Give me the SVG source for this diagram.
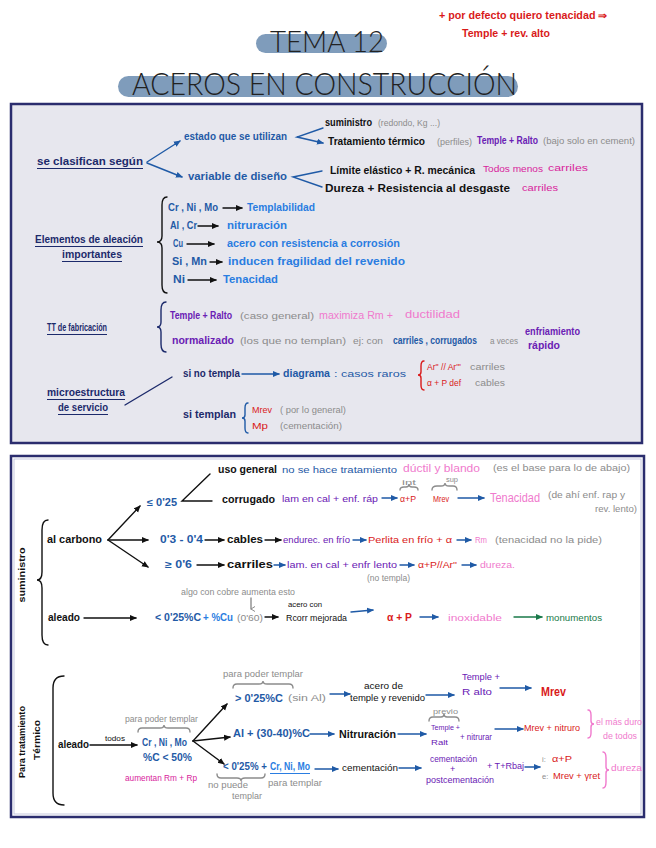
<svg xmlns="http://www.w3.org/2000/svg" width="656" height="848" viewBox="0 0 656 848">
<defs>
<style>
text{font-family:"Liberation Sans",Arial,sans-serif;font-size:10px;font-weight:bold}
.h{font-family:Lato,"Open Sans","Liberation Sans",sans-serif;font-weight:300;fill:#222}
.s{font-size:9px;font-weight:normal}
.xs{font-size:7.5px;font-weight:normal}
.nv{fill:#1c2a6b}.bl{fill:#1f5aa6}.bb{fill:#2a7de1}.k{fill:#111}.g{fill:#8c8c8c;font-weight:normal}
.pu{fill:#6a20b4}.mg{fill:#d8249c}.lp{fill:#f07acd;font-weight:normal}.r{fill:#d91a1a}.gn{fill:#1a7a4a}
.ln{fill:none;stroke-width:1.4;stroke-linecap:round}
.ck{stroke:#111}.cb{stroke:#1f5aa6}.cn{stroke:#1c2a6b}.cg{stroke:#1a7a4a}.cgr{stroke:#8c8c8c}.cr{stroke:#d91a1a}.cp{stroke:#f07acd}
.ul{stroke:#1c2a6b;stroke-width:1.2}
</style>
<marker id="mk" markerWidth="7" markerHeight="7" refX="6" refY="3.5" orient="auto" markerUnits="userSpaceOnUse"><path d="M0,0.5 L7,3.5 L0,6.5 Z" fill="#111"/></marker>
<marker id="mb" markerWidth="7" markerHeight="7" refX="6" refY="3.5" orient="auto" markerUnits="userSpaceOnUse"><path d="M0,0.5 L7,3.5 L0,6.5 Z" fill="#1f5aa6"/></marker>
<marker id="mg" markerWidth="7" markerHeight="7" refX="6" refY="3.5" orient="auto" markerUnits="userSpaceOnUse"><path d="M0,0.5 L7,3.5 L0,6.5 Z" fill="#1a7a4a"/></marker>
<marker id="mgr" markerWidth="6" markerHeight="6" refX="3" refY="5" orient="auto" markerUnits="userSpaceOnUse"><path d="M0.5,1 L3,5 L5.5,1" fill="none" stroke="#8c8c8c"/></marker>
</defs>

<!-- header -->
<g id="note">
<text x="439" y="19" class="r" textLength="168" lengthAdjust="spacingAndGlyphs">+ por defecto quiero tenacidad ⇒</text>
<text x="462" y="37" class="r" textLength="88" lengthAdjust="spacingAndGlyphs">Temple + rev. alto</text>
</g>
<g id="title1">
<rect x="256" y="34" width="131" height="19" rx="9.5" fill="#7f9cbb"/>
<text x="270" y="52" class="h" style="font-size:29px" textLength="114" lengthAdjust="spacingAndGlyphs">TEMA 12</text>
</g>
<g id="title2">
<rect x="118" y="76" width="400" height="21" rx="10.5" fill="#7f9cbb"/>
<text x="132" y="95" class="h" style="font-size:31px" textLength="385" lengthAdjust="spacingAndGlyphs">ACEROS EN CONSTRUCCIÓN</text>
</g>

<!-- box 1 -->
<rect x="11" y="104" width="631" height="339" fill="#e7e7ee" stroke="#2b2d6e" stroke-width="2.5"/>

<g id="clasifican">
<text x="37" y="165" class="nv" textLength="106" lengthAdjust="spacingAndGlyphs">se clasifican según</text>
<line x1="37" y1="168.5" x2="143" y2="168.5" class="ul"/>
</g>
<g id="estado">
<text x="184" y="140" class="bl" textLength="103" lengthAdjust="spacingAndGlyphs">estado que se utilizan</text>
</g>
<g id="variable">
<text x="188" y="180" class="bl" textLength="99" lengthAdjust="spacingAndGlyphs">variable de diseño</text>
</g>
<g id="suministro1">
<text x="325" y="126" class="k" textLength="47" lengthAdjust="spacingAndGlyphs">suministro</text>
<text x="378" y="126" class="g s" textLength="62" lengthAdjust="spacingAndGlyphs">(redondo, Kg ...)</text>
</g>
<g id="tratamiento1">
<text x="328" y="145" class="k" textLength="97" lengthAdjust="spacingAndGlyphs">Tratamiento térmico</text>
<text x="437" y="145" class="g s" textLength="35" lengthAdjust="spacingAndGlyphs">(perfiles)</text>
<text x="477" y="144" class="pu" textLength="61" lengthAdjust="spacingAndGlyphs">Temple + Ralto</text>
<text x="543" y="144" class="g s" textLength="92" lengthAdjust="spacingAndGlyphs">(bajo solo en cement)</text>
</g>
<g id="limite">
<text x="330" y="174" class="k" textLength="145" lengthAdjust="spacingAndGlyphs">Límite elástico + R. mecánica</text>
<text x="483" y="172" class="mg s" textLength="60" lengthAdjust="spacingAndGlyphs">Todos menos</text>
<text x="548" y="171" class="mg s" textLength="40" lengthAdjust="spacingAndGlyphs">carriles</text>
</g>
<g id="dureza1">
<text x="325" y="192" class="k" textLength="185" lengthAdjust="spacingAndGlyphs">Dureza + Resistencia al desgaste</text>
<text x="522" y="191" class="mg s" textLength="36" lengthAdjust="spacingAndGlyphs">carriles</text>
</g>

<g id="elementos">
<text x="35" y="243" class="nv" textLength="108" lengthAdjust="spacingAndGlyphs">Elementos de aleación</text>
<line x1="35" y1="246.5" x2="143" y2="246.5" class="ul"/>
<text x="62" y="258" class="nv" textLength="60" lengthAdjust="spacingAndGlyphs">importantes</text>
<line x1="62" y1="261.5" x2="122" y2="261.5" class="ul"/>
</g>
<g id="el1"><text x="168" y="211" class="bl" textLength="50" lengthAdjust="spacingAndGlyphs">Cr , Ni , Mo</text><text x="247" y="211" class="bb" textLength="68" lengthAdjust="spacingAndGlyphs">Templabilidad</text></g>
<g id="el2"><text x="170" y="229" class="bl" textLength="27" lengthAdjust="spacingAndGlyphs">Al , Cr</text><text x="227" y="229" class="bb" textLength="60" lengthAdjust="spacingAndGlyphs">nitruración</text></g>
<g id="el3"><text x="173" y="247" class="bl" textLength="10" lengthAdjust="spacingAndGlyphs">Cu</text><text x="227" y="247" class="bb" textLength="173" lengthAdjust="spacingAndGlyphs">acero con resistencia a corrosión</text></g>
<g id="el4"><text x="172" y="265" class="bl" textLength="35" lengthAdjust="spacingAndGlyphs">Si , Mn</text><text x="228" y="265" class="bb" textLength="177" lengthAdjust="spacingAndGlyphs">inducen fragilidad del revenido</text></g>
<g id="el5"><text x="173" y="283" class="bl" textLength="12" lengthAdjust="spacingAndGlyphs">Ni</text><text x="223" y="283" class="bb" textLength="55" lengthAdjust="spacingAndGlyphs">Tenacidad</text></g>

<g id="tt">
<text x="47" y="331" class="nv" textLength="60" lengthAdjust="spacingAndGlyphs">TT de fabricación</text>
<line x1="47" y1="334.5" x2="107" y2="334.5" class="ul"/>
</g>
<g id="tt1">
<text x="170" y="319" class="pu" textLength="62" lengthAdjust="spacingAndGlyphs">Temple + Ralto</text>
<text x="240" y="319" class="g s" textLength="74" lengthAdjust="spacingAndGlyphs">(caso general)</text>
<text x="319" y="319" class="lp" textLength="74" lengthAdjust="spacingAndGlyphs">maximiza Rm +</text>
<text x="405" y="318" class="lp" textLength="55" lengthAdjust="spacingAndGlyphs">ductilidad</text>
</g>
<g id="tt2">
<text x="172" y="344" class="pu" textLength="62" lengthAdjust="spacingAndGlyphs">normalizado</text>
<text x="240" y="344" class="g s" textLength="106" lengthAdjust="spacingAndGlyphs">(los que no templan)</text>
<text x="353" y="344" class="g s" textLength="30" lengthAdjust="spacingAndGlyphs">ej: con</text>
<text x="393" y="344" class="bl" textLength="84" lengthAdjust="spacingAndGlyphs">carriles , corrugados</text>
<text x="490" y="344" class="g s" textLength="28" lengthAdjust="spacingAndGlyphs">a veces</text>
<text x="525" y="335" class="pu" textLength="55" lengthAdjust="spacingAndGlyphs">enfriamiento</text>
<text x="528" y="349" class="pu" textLength="32" lengthAdjust="spacingAndGlyphs">rápido</text>
</g>

<g id="micro">
<text x="47" y="396" class="nv" textLength="78" lengthAdjust="spacingAndGlyphs">microestructura</text>
<line x1="47" y1="399.5" x2="125" y2="399.5" class="ul"/>
<text x="58" y="411" class="nv" textLength="50" lengthAdjust="spacingAndGlyphs">de servicio</text>
<line x1="58" y1="414.5" x2="108" y2="414.5" class="ul"/>
</g>
<g id="notempla">
<text x="183" y="377" class="nv" textLength="57" lengthAdjust="spacingAndGlyphs">si no templa</text>
<text x="283" y="377" class="bl" textLength="47" lengthAdjust="spacingAndGlyphs">diagrama</text>
<text x="334" y="377" class="bl s" textLength="72" lengthAdjust="spacingAndGlyphs">: casos raros</text>
<text x="427" y="370" class="r s" textLength="34" lengthAdjust="spacingAndGlyphs">Ar'' // Ar'''</text>
<text x="427" y="386" class="r s" textLength="34" lengthAdjust="spacingAndGlyphs">α + P def</text>
<text x="470" y="370" class="g s" textLength="35" lengthAdjust="spacingAndGlyphs">carriles</text>
<text x="475" y="386" class="g s" textLength="30" lengthAdjust="spacingAndGlyphs">cables</text>
</g>
<g id="templan">
<text x="183" y="418" class="nv" textLength="53" lengthAdjust="spacingAndGlyphs">si templan</text>
<text x="252" y="413" class="r s" textLength="20" lengthAdjust="spacingAndGlyphs">Mrev</text>
<text x="280" y="413" class="g s" textLength="66" lengthAdjust="spacingAndGlyphs">( por lo general)</text>
<text x="252" y="429" class="r s" textLength="16" lengthAdjust="spacingAndGlyphs">Mp</text>
<text x="280" y="429" class="g s" textLength="62" lengthAdjust="spacingAndGlyphs">(cementación)</text>
</g>

<!-- box 2 -->
<rect x="11" y="456" width="633" height="361" fill="#fff" stroke="#2b2d6e" stroke-width="2.5"/>
<rect x="14" y="459" width="627" height="355" fill="none" stroke="#b9bcd8" stroke-width="0.8"/>

<g id="suministro2">
<text transform="translate(25,575) rotate(-90)" text-anchor="middle" class="k" style="font-size:9px" textLength="55" lengthAdjust="spacingAndGlyphs">suministro</text>
</g>
<g id="alcarbono"><text x="47" y="543" class="k" textLength="55" lengthAdjust="spacingAndGlyphs">al carbono</text></g>
<g id="c025"><text x="147" y="506" class="bl" textLength="30" lengthAdjust="spacingAndGlyphs">≤ 0'25</text></g>
<g id="usogeneral">
<text x="218" y="473" class="k" textLength="59" lengthAdjust="spacingAndGlyphs">uso general</text>
<text x="282" y="473" class="bl s" textLength="115" lengthAdjust="spacingAndGlyphs">no se hace tratamiento</text>
<text x="403" y="472" class="lp" style="font-size:11px" textLength="77" lengthAdjust="spacingAndGlyphs">dúctil y blando</text>
<text x="493" y="471" class="g s" textLength="137" lengthAdjust="spacingAndGlyphs">(es el base para lo de abajo)</text>
</g>
<g id="corrugado">
<text x="222" y="503" class="k" textLength="53" lengthAdjust="spacingAndGlyphs">corrugado</text>
<text x="282" y="502" class="pu s" textLength="96" lengthAdjust="spacingAndGlyphs">lam en cal + enf. ráp</text>
<text x="402" y="485" class="g xs" textLength="14" lengthAdjust="spacingAndGlyphs">int</text>
<text x="400" y="502" class="r s" textLength="16" lengthAdjust="spacingAndGlyphs">α+P</text>
<text x="446" y="482" class="g xs" textLength="12" lengthAdjust="spacingAndGlyphs">sup</text>
<text x="433" y="502" class="r s" textLength="16" lengthAdjust="spacingAndGlyphs">Mrev</text>
<text x="490" y="502" class="lp" style="font-size:12px" textLength="50" lengthAdjust="spacingAndGlyphs">Tenacidad</text>
<text x="548" y="498" class="g s" textLength="77" lengthAdjust="spacingAndGlyphs">(de ahí enf. rap y</text>
<text x="595" y="512" class="g s" textLength="42" lengthAdjust="spacingAndGlyphs">rev. lento)</text>
</g>
<g id="c0304">
<text x="160" y="543" class="bl" textLength="43" lengthAdjust="spacingAndGlyphs">0'3 - 0'4</text>
<text x="227" y="543" class="k" textLength="36" lengthAdjust="spacingAndGlyphs">cables</text>
<text x="283" y="543" class="pu s" textLength="67" lengthAdjust="spacingAndGlyphs">endurec. en frío</text>
<text x="368" y="543" class="r s" textLength="84" lengthAdjust="spacingAndGlyphs">Perlita en frío + α</text>
<text x="475" y="543" class="lp s" textLength="12" lengthAdjust="spacingAndGlyphs">Rm</text>
<text x="495" y="543" class="g s" textLength="107" lengthAdjust="spacingAndGlyphs">(tenacidad no la pide)</text>
</g>
<g id="c06">
<text x="165" y="568" class="bl" textLength="27" lengthAdjust="spacingAndGlyphs">≥ 0'6</text>
<text x="227" y="568" class="k" textLength="46" lengthAdjust="spacingAndGlyphs">carriles</text>
<text x="287" y="568" class="pu s" textLength="110" lengthAdjust="spacingAndGlyphs">lam. en cal + enfr lento</text>
<text x="367" y="581" class="g s" textLength="43" lengthAdjust="spacingAndGlyphs">(no templa)</text>
<text x="418" y="568" class="r s" textLength="39" lengthAdjust="spacingAndGlyphs">α+P//Ar''</text>
<text x="480" y="568" class="lp s" textLength="35" lengthAdjust="spacingAndGlyphs">dureza.</text>
</g>
<g id="aleado1">
<text x="48" y="621" class="k" textLength="32" lengthAdjust="spacingAndGlyphs">aleado</text>
<text x="181" y="595" class="g s" textLength="114" lengthAdjust="spacingAndGlyphs">algo con cobre aumenta esto</text>
<text x="155" y="621" class="bl" textLength="46" lengthAdjust="spacingAndGlyphs">&lt; 0'25%C</text>
<text x="203" y="621" class="bb" textLength="30" lengthAdjust="spacingAndGlyphs">+ %Cu</text>
<text x="237" y="621" class="g s" textLength="26" lengthAdjust="spacingAndGlyphs">(0'60)</text>
<text x="288" y="607" class="k xs" textLength="34" lengthAdjust="spacingAndGlyphs">acero con</text>
<text x="286" y="621" class="k s" textLength="61" lengthAdjust="spacingAndGlyphs">Rcorr mejorada</text>
<text x="387" y="621" class="r" textLength="25" lengthAdjust="spacingAndGlyphs">α + P</text>
<text x="448" y="621" class="lp s" textLength="54" lengthAdjust="spacingAndGlyphs">inoxidable</text>
<text x="546" y="621" class="gn s" textLength="56" lengthAdjust="spacingAndGlyphs">monumentos</text>
</g>

<g id="paratt">
<text transform="translate(25,742) rotate(-90)" text-anchor="middle" class="k" style="font-size:8.5px" textLength="72" lengthAdjust="spacingAndGlyphs">Para tratamiento</text>
<text transform="translate(40,740) rotate(-90)" text-anchor="middle" class="k" style="font-size:8.5px" textLength="40" lengthAdjust="spacingAndGlyphs">Térmico</text>
</g>
<g id="aleado2">
<text x="58" y="748" class="k" textLength="31" lengthAdjust="spacingAndGlyphs">aleado</text>
<text x="105" y="741" class="k xs" textLength="20" lengthAdjust="spacingAndGlyphs">todos</text>
</g>
<g id="crnimo">
<text x="125" y="722" class="g s" textLength="73" lengthAdjust="spacingAndGlyphs">para poder templar</text>
<text x="142" y="746" class="bl" textLength="45" lengthAdjust="spacingAndGlyphs">Cr , Ni , Mo</text>
<text x="143" y="761" class="bl" textLength="49" lengthAdjust="spacingAndGlyphs">%C &lt; 50%</text>
<text x="125" y="781" class="mg s" textLength="72" lengthAdjust="spacingAndGlyphs">aumentan Rm + Rp</text>
</g>
<g id="m025">
<text x="223" y="677" class="g s" textLength="80" lengthAdjust="spacingAndGlyphs">para poder templar</text>
<text x="235" y="702" class="bl" textLength="48" lengthAdjust="spacingAndGlyphs">&gt; 0'25%C</text>
<text x="288" y="701" class="g s" textLength="38" lengthAdjust="spacingAndGlyphs">(sin Al)</text>
</g>
<g id="al3040"><text x="233" y="737" class="bl" textLength="77" lengthAdjust="spacingAndGlyphs">Al + (30-40)%C</text></g>
<g id="l025">
<text x="223" y="770" class="bl" textLength="44" lengthAdjust="spacingAndGlyphs">&lt; 0'25% +</text>
<text x="270" y="770" class="bb" textLength="40" lengthAdjust="spacingAndGlyphs">Cr, Ni, Mo</text>
<text x="208" y="788" class="g s" textLength="40" lengthAdjust="spacingAndGlyphs">no puede</text>
<text x="232" y="799" class="g s" textLength="30" lengthAdjust="spacingAndGlyphs">templar</text>
<text x="268" y="786" class="g s" textLength="54" lengthAdjust="spacingAndGlyphs">para templar</text>
</g>
<g id="r1">
<text x="364" y="689" class="k s" textLength="39" lengthAdjust="spacingAndGlyphs">acero de</text>
<text x="350" y="701" class="k s" textLength="75" lengthAdjust="spacingAndGlyphs">temple y revenido</text>
<text x="462" y="680" class="pu s" textLength="38" lengthAdjust="spacingAndGlyphs">Temple +</text>
<text x="462" y="695" class="pu s" textLength="30" lengthAdjust="spacingAndGlyphs">R alto</text>
<text x="541" y="696" class="r" style="font-size:13px" textLength="25" lengthAdjust="spacingAndGlyphs">Mrev</text>
</g>
<g id="r2">
<text x="339" y="738" class="k" textLength="57" lengthAdjust="spacingAndGlyphs">Nitruración</text>
<text x="433" y="714" class="g xs" textLength="25" lengthAdjust="spacingAndGlyphs">previo</text>
<text x="431" y="730" class="pu xs" textLength="29" lengthAdjust="spacingAndGlyphs">Temple +</text>
<text x="431" y="745" class="pu xs" textLength="17" lengthAdjust="spacingAndGlyphs">Ralt</text>
<text x="460" y="740" class="pu s" textLength="32" lengthAdjust="spacingAndGlyphs">+ nitrurar</text>
<text x="524" y="731" class="r s" textLength="56" lengthAdjust="spacingAndGlyphs">Mrev + nitruro</text>
<text x="596" y="725" class="lp s" textLength="46" lengthAdjust="spacingAndGlyphs">el más duro</text>
<text x="603" y="739" class="lp s" textLength="34" lengthAdjust="spacingAndGlyphs">de todos</text>
</g>
<g id="r3">
<text x="342" y="771" class="k s" textLength="56" lengthAdjust="spacingAndGlyphs">cementación</text>
<text x="430" y="762" class="pu s" textLength="47" lengthAdjust="spacingAndGlyphs">cementación</text>
<text x="450" y="772" class="pu s">+</text>
<text x="426" y="783" class="pu s" textLength="68" lengthAdjust="spacingAndGlyphs">postcementación</text>
<text x="487" y="769" class="pu s" textLength="37" lengthAdjust="spacingAndGlyphs">+ T+Rbaj</text>
<text x="542" y="762" class="g xs">i:</text>
<text x="552" y="762" class="r s" textLength="20" lengthAdjust="spacingAndGlyphs">α+P</text>
<text x="542" y="779" class="g xs">e:</text>
<text x="553" y="779" class="r s" textLength="47" lengthAdjust="spacingAndGlyphs">Mrev + γret</text>
<text x="611" y="771" class="lp s" textLength="31" lengthAdjust="spacingAndGlyphs">dureza</text>
</g>

<g id="connectors">
<path d="M147 162 L180 141" class="ln cb" marker-end="url(#mb)"/>
<path d="M147 163 L182 177" class="ln cb" marker-end="url(#mb)"/>
<path d="M323 128 L297 137 L323 143" class="ln cb" marker-end="url(#mb)"/>
<path d="M322 171 L293 177 L322 187" class="ln cb"/>
<path d="M167 197 Q162 197 162 205 L162 236 Q162 242 157 242 Q162 242 162 248 L162 285 Q162 293 167 293" class="ln ck"/>
<path d="M223 208 L242 208" class="ln ck" marker-end="url(#mk)"/>
<path d="M198 226 L218 226" class="ln ck" marker-end="url(#mk)"/>
<path d="M187 244 L214 244" class="ln ck" marker-end="url(#mk)"/>
<path d="M210 262 L222 262" class="ln ck" marker-end="url(#mk)"/>
<path d="M188 280 L216 280" class="ln ck" marker-end="url(#mk)"/>
<path d="M166 302 Q161 302 161 310 L161 322 Q161 327 157 327 Q161 327 161 332 L161 344 Q161 352 166 352" class="ln cn"/>
<path d="M125 405 L172 377" class="ln cn"/>
<path d="M242 374 L279 374" class="ln cb" marker-end="url(#mb)"/>
<path d="M424 361 Q421 361 421 366 L421 372 Q421 375 418 375 Q421 375 421 378 L421 385 Q421 390 424 390" class="ln cr" stroke-width="2"/>
<path d="M248 403 Q245 403 245 408 L245 415 Q245 418 242 418 Q245 418 245 421 L245 428 Q245 433 248 433" class="ln cb" stroke-width="1.8"/>
<path d="M48 520 Q42 520 42 530 L42 572 Q42 580 37 580 Q42 580 42 588 L42 635 Q42 645 48 645" class="ln ck"/>
<path d="M108 540 L140 506" class="ln ck" marker-end="url(#mk)"/>
<path d="M108 540 L148 540" class="ln ck" marker-end="url(#mk)"/>
<path d="M108 540 L148 567" class="ln ck" marker-end="url(#mk)"/>
<path d="M210 474 L182 501 L212 501" class="ln ck"/>
<path d="M382 498 L397 498" class="ln cb" marker-end="url(#mb)"/>
<path d="M400 490 Q400 487 404 487 L406 487 Q409 487 409 484 Q409 487 412 487 L414 487 Q418 487 418 490" class="ln cgr" stroke-width="0.8"/>
<path d="M432 490 Q432 486 437 486 L441 486 Q445 486 445 483 Q445 486 449 486 L453 486 Q457 486 457 490" class="ln cgr" stroke-width="0.8"/>
<path d="M458 498 L484 498" class="ln cb" marker-end="url(#mb)"/>
<path d="M205 540 L224 540" class="ln ck" marker-end="url(#mk)"/>
<path d="M265 540 L281 540" class="ln ck" marker-end="url(#mk)"/>
<path d="M353 540 L366 540" class="ln cb" marker-end="url(#mb)"/>
<path d="M457 540 L471 540" class="ln cb" marker-end="url(#mb)"/>
<path d="M197 565 L224 565" class="ln ck" marker-end="url(#mk)"/>
<path d="M274 565 L285 565" class="ln cb" marker-end="url(#mb)"/>
<path d="M400 565 L414 565" class="ln cb" marker-end="url(#mb)"/>
<path d="M462 565 L476 565" class="ln cb" marker-end="url(#mb)"/>
<path d="M84 618 L136 618" class="ln ck" stroke-width="1.8" marker-end="url(#mk)"/>
<path d="M251 598 L251 609" class="ln cgr" stroke-width="0.8" marker-end="url(#mgr)"/>
<path d="M265 617 L278 617" class="ln ck" marker-end="url(#mk)"/>
<path d="M351 612 L373 610" class="ln cb" marker-end="url(#mb)"/>
<path d="M420 617 L438 617" class="ln cb" marker-end="url(#mb)"/>
<path d="M514 617 L542 617" class="ln cg" marker-end="url(#mg)"/>
<path d="M64 676 Q53 676 53 688 L53 793 Q53 805 64 805" class="ln ck"/>
<path d="M90 745 L137 745" class="ln ck" marker-end="url(#mk)"/>
<path d="M138 732 Q138 728 142 728 L160 728 Q164 728 164 725 Q164 728 168 728 L186 728 Q190 728 190 732" class="ln cgr" stroke-width="0.8"/>
<path d="M193 741 L227 704" class="ln ck" marker-end="url(#mk)"/>
<path d="M193 741 L230 737" class="ln ck" marker-end="url(#mk)"/>
<path d="M193 741 L224 764" class="ln ck" marker-end="url(#mk)"/>
<path d="M233 688 Q233 684 237 684 L259 684 Q263 684 263 681 Q263 684 267 684 L289 684 Q293 684 293 688" class="ln cgr" stroke-width="0.8"/>
<path d="M217 774 Q217 778 221 778 L237 778 Q241 778 241 781 Q241 778 245 778 L261 778 Q265 778 265 774" class="ln cgr" stroke-width="0.8"/>
<line x1="270" y1="773.5" x2="310" y2="773.5" stroke="#2a7de1" stroke-width="1"/>
<path d="M330 694 L350 694" class="ln cb" marker-end="url(#mb)"/>
<path d="M426 695 L454 695" class="ln cb" marker-end="url(#mb)"/>
<path d="M500 688 L531 688" class="ln cb" marker-end="url(#mb)"/>
<path d="M310 734 L334 734" class="ln cb" marker-end="url(#mb)"/>
<path d="M398 734 L426 734" class="ln cb" marker-end="url(#mb)"/>
<path d="M429 721 Q429 717 433 717 L441 717 Q444 717 444 714 Q444 717 447 717 L455 717 Q459 717 459 721" class="ln cgr" stroke-width="0.8"/>
<path d="M495 729 L523 729" class="ln cb" marker-end="url(#mb)"/>
<path d="M588 710 Q591 710 591 715 L591 721 Q591 724 594 724 Q591 724 591 727 L591 733 Q591 738 588 738" class="ln cp" stroke-width="1.8"/>
<path d="M315 769 L338 769" class="ln cb" marker-end="url(#mb)"/>
<path d="M399 768 L421 768" class="ln cb" marker-end="url(#mb)"/>
<path d="M525 767 L540 767" class="ln cb" marker-end="url(#mb)"/>
<path d="M603 752 Q606 752 606 758 L606 767 Q606 770 609 770 Q606 770 606 773 L606 782 Q606 788 603 788" class="ln cp" stroke-width="1.8"/>
</g>
</svg>
